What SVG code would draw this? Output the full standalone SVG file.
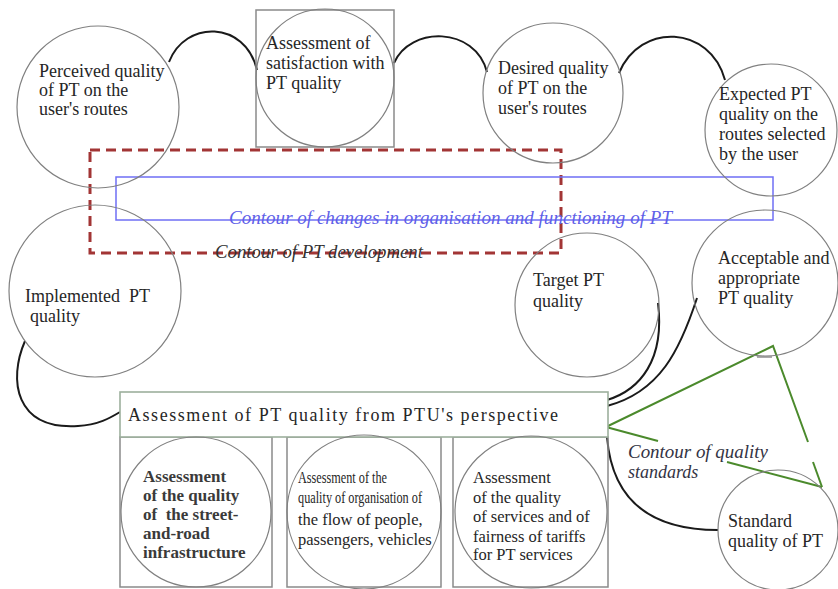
<svg xmlns="http://www.w3.org/2000/svg" width="838" height="589" viewBox="0 0 838 589">
  <defs>
    <style>
      .circ { fill: none; stroke: #808080; stroke-width: 1.2; }
      .box { fill: none; stroke: #8a8a8a; stroke-width: 1.5; }
      .hdr { fill: #fff; stroke: #9db09d; stroke-width: 1.6; }
      .lbl { font-family: "Liberation Serif", "Times New Roman", serif; font-size: 18px; fill: #262626; }
      .sm { font-size: 16.5px; }
      .bd { font-weight: bold; font-size: 17px; fill: #3a3a3a; }
      .conn { fill: none; stroke: #1a1a1a; stroke-width: 2; }
      .green { fill: none; stroke: #4b8a2c; stroke-width: 2; }
      .it { font-family: "Liberation Serif", "Times New Roman", serif; font-style: italic; font-size: 18px; }
    </style>
  </defs>

  <rect width="838" height="589" fill="#ffffff"/>

  <!-- connectors between quality circles -->
  <g id="connectors">
    <path class="conn" d="M169 62 C 185 20, 245 20, 257 70"/>
    <path class="conn" d="M394 63 C 410 26, 475 26, 487 72"/>
    <path class="conn" d="M619 73 C 640 22, 710 25, 725 80"/>
    <path class="conn" d="M25 341 C 8 380, 15 430, 78 426 C 98 425, 110 418, 120 412"/>
    <path class="conn" d="M658 303 C 665 360, 640 390, 607 400"/>
    <path class="conn" d="M697 298 C 680 350, 660 392, 607 406"/>
    <path class="conn" d="M607 437 C 612 500, 650 530, 718 530"/>
  </g>

  <!-- contour of PT development (dashed) -->
  <g id="contour-development">
    <rect x="90" y="150" width="471" height="103" fill="none" stroke="#a23535" stroke-width="3" stroke-dasharray="10 6"/>
  </g>

  <!-- contour of changes in organisation and functioning -->
  <g id="contour-changes">
    <rect x="116" y="177" width="657" height="43" fill="none" stroke="#6f6ff5" stroke-width="1.5"/>
  </g>

  <!-- contour of quality standards -->
  <g id="contour-standards">
    <path class="green" d="M606 427 L773 346 L808 442"/>
    <path class="green" d="M813 462 L822 487"/>
    <path class="green" d="M606 427 L658 441"/>
    <path class="green" d="M727 462 L822 487"/>
    <path d="M757 357 H772" stroke="#aaaaaa" stroke-width="2"/>
  </g>

  <g id="perceived">
    <circle class="circ" cx="98" cy="107" r="81"/>
    <text class="lbl"><tspan x="39" y="77">Perceived quality</tspan><tspan x="39" y="96">of PT on the</tspan><tspan x="39" y="115">user's routes</tspan></text>
  </g>

  <g id="satisfaction">
    <rect class="box" x="256" y="10" width="138" height="137"/>
    <circle class="circ" cx="325" cy="78" r="69"/>
    <text class="lbl"><tspan x="266" y="49">Assessment of</tspan><tspan x="266" y="69">satisfaction with</tspan><tspan x="266" y="89">PT quality</tspan></text>
  </g>

  <g id="desired">
    <circle class="circ" cx="553" cy="93" r="70"/>
    <text class="lbl"><tspan x="498" y="74">Desired quality</tspan><tspan x="498" y="94">of PT on the</tspan><tspan x="498" y="114">user's routes</tspan></text>
  </g>

  <g id="expected">
    <circle class="circ" cx="771" cy="130" r="66"/>
    <text class="lbl"><tspan x="719" y="100">Expected PT</tspan><tspan x="719" y="120">quality on the</tspan><tspan x="719" y="140">routes selected</tspan><tspan x="719" y="160">by the user</tspan></text>
  </g>

  <g id="implemented">
    <circle class="circ" cx="95" cy="291" r="86"/>
    <text class="lbl" xml:space="preserve"><tspan x="25" y="302">Implemented  PT</tspan><tspan x="30" y="322">quality</tspan></text>
  </g>

  <g id="target">
    <circle class="circ" cx="587" cy="305" r="72"/>
    <text class="lbl"><tspan x="533" y="286">Target PT</tspan><tspan x="533" y="307">quality</tspan></text>
  </g>

  <g id="acceptable">
    <circle class="circ" cx="765" cy="283" r="73"/>
    <text class="lbl"><tspan x="718" y="264">Acceptable and</tspan><tspan x="718" y="284">appropriate</tspan><tspan x="718" y="304">PT quality</tspan></text>
  </g>

  <g id="standard">
    <circle class="circ" cx="778" cy="530" r="60"/>
    <text class="lbl"><tspan x="728" y="527">Standard</tspan><tspan x="728" y="547">quality of PT</tspan></text>
  </g>

  <g id="ptu-assessment">
    <rect class="box" x="120" y="437" width="152" height="150"/>
    <rect class="box" x="287" y="437" width="154" height="150"/>
    <rect class="box" x="453" y="437" width="155" height="150"/>
    <rect class="hdr" x="120" y="392" width="488" height="45"/>
    <text class="lbl" x="128" y="421" font-size="21" textLength="430" lengthAdjust="spacing">Assessment of PT quality from PTU's perspective</text>
  </g>

  <g id="infrastructure">
    <circle class="circ" cx="196" cy="512" r="75"/>
    <text class="lbl bd" xml:space="preserve"><tspan x="143" y="482">Assessment</tspan><tspan x="143" y="501">of the quality</tspan><tspan x="143" y="520">of  the street-</tspan><tspan x="143" y="539">and-road</tspan><tspan x="143" y="558">infrastructure</tspan></text>
  </g>

  <g id="flow">
    <circle class="circ" cx="364" cy="512" r="77"/>
    <text class="lbl sm"><tspan x="298" y="483" textLength="89" lengthAdjust="spacingAndGlyphs">Assessment of the</tspan><tspan x="298" y="503" textLength="124" lengthAdjust="spacingAndGlyphs">quality of organisation of</tspan><tspan x="298" y="525">the flow of people,</tspan><tspan x="298" y="545">passengers, vehicles</tspan></text>
  </g>

  <g id="services">
    <circle class="circ" cx="531" cy="512" r="76"/>
    <text class="lbl sm"><tspan x="473" y="483">Assessment</tspan><tspan x="473" y="503">of the quality</tspan><tspan x="473" y="522">of services and of</tspan><tspan x="473" y="542">fairness of tariffs</tspan><tspan x="473" y="560">for PT services</tspan></text>
  </g>

  <!-- contour captions -->
  <text class="it" x="229" y="224" fill="#5f5fe8" textLength="443" lengthAdjust="spacingAndGlyphs">Contour of changes in organisation and functioning of PT</text>
  <text class="it" x="215" y="258" fill="#333333" textLength="208" lengthAdjust="spacingAndGlyphs">Contour of PT development</text>
  <text class="it" fill="#333344"><tspan x="628" y="458" textLength="140" lengthAdjust="spacingAndGlyphs">Contour of quality</tspan><tspan x="628" y="478">standards</tspan></text>
</svg>
